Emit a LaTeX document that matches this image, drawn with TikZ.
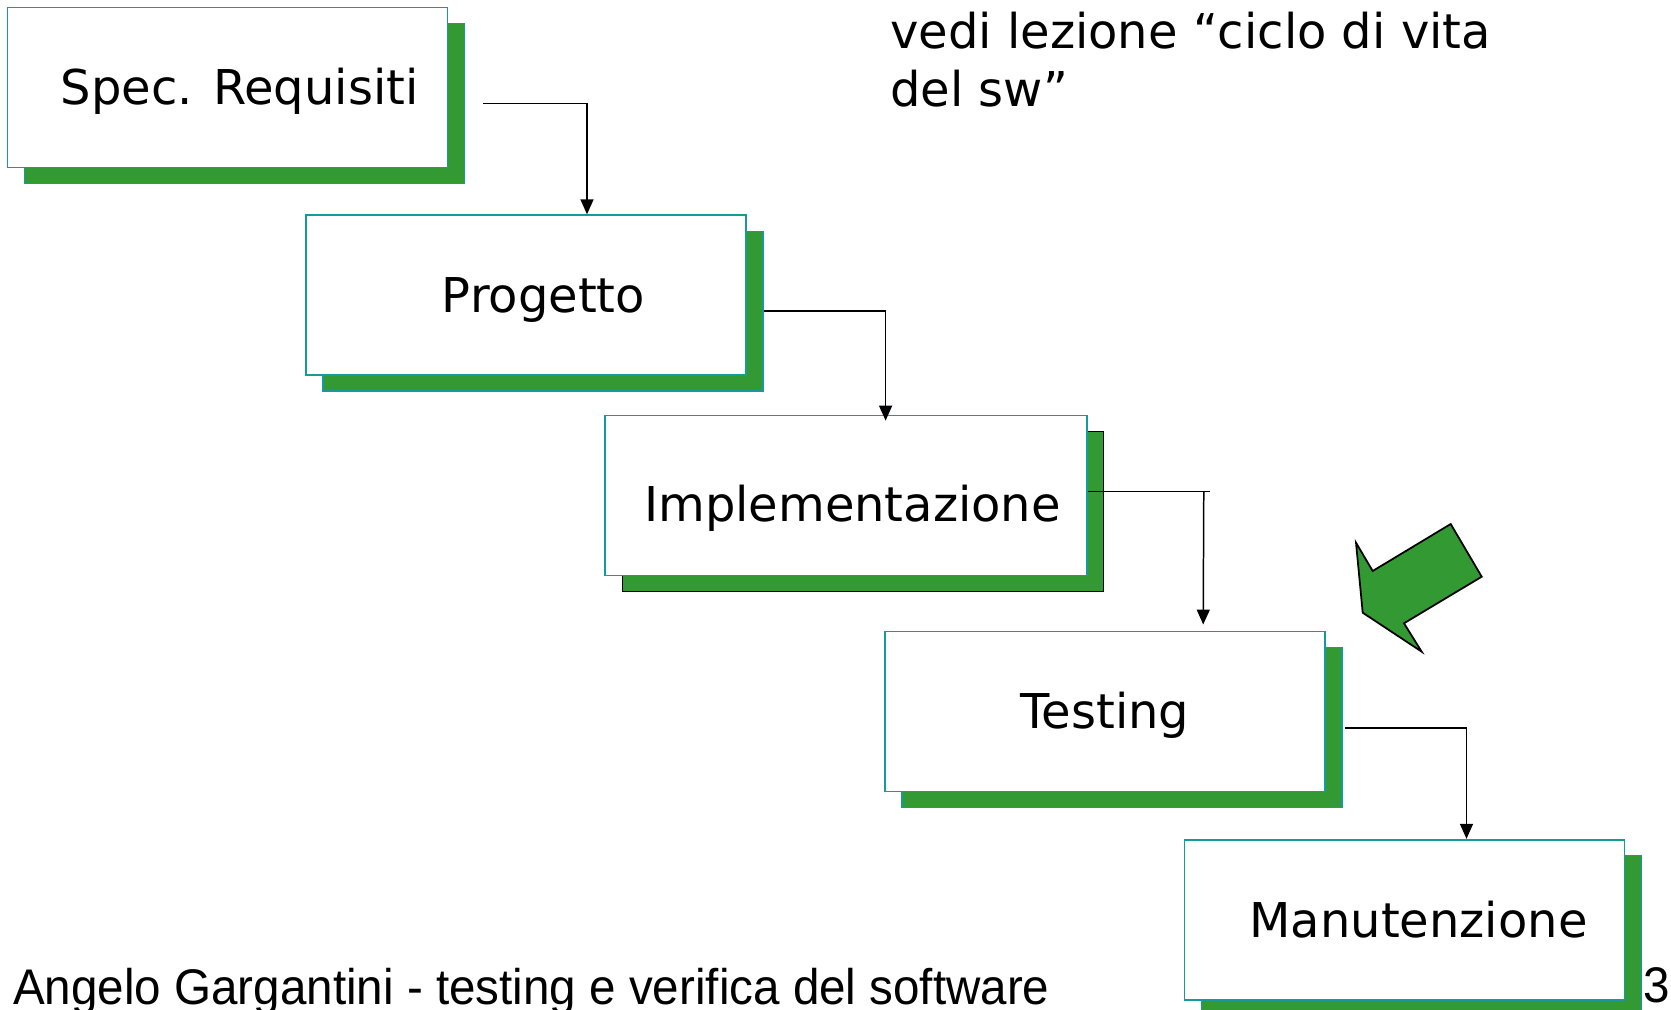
\documentclass[tikz,border=0pt]{standalone}
\usepackage{fontspec}
\setmainfont{DejaVu Sans}
\newfontfamily\footfont[FakeStretch=0.95]{Liberation Sans}
\usetikzlibrary{arrows.meta,calc,shadows,positioning}
\definecolor{shadegreen}{RGB}{51,153,51}
\definecolor{boxteal}{RGB}{20,155,155}
\tikzset{
    phasebase/.style={draw=boxteal, fill=white, line width=1pt,
        minimum width=8.8cm, minimum height=3.2cm, inner sep=0pt,
        text height=19.9pt, text depth=0pt,
        font=\fontsize{27.3}{33}\selectfont},
    phase/.style={phasebase, execute at begin node={\hspace*{#1}},
        general shadow={fill=shadegreen, draw=boxteal, line width=0.8pt,
            shadow xshift=0.34cm, shadow yshift=-0.32cm}},
    phase/.default=0pt,
    darkphase/.style={phasebase, execute at begin node={\hspace*{#1}},
        general shadow={fill=shadegreen, draw=black, line width=0.8pt,
            shadow xshift=0.34cm, shadow yshift=-0.32cm}},
    darkphase/.default=0pt,
    flow/.style={line width=0.85pt, -{Triangle[length=0.3cm,width=0.26cm]}},
    bignote/.style={inner sep=0pt, font=\fontsize{27.3}{33.3}\selectfont},
    footnote/.style={inner sep=0pt, anchor=base west,
        font=\footfont\fontsize{28.5}{33}\selectfont}
}
\begin{document}
\begin{tikzpicture}[x=0.02cm, y=-0.02cm]
    \useasboundingbox (0,0) rectangle (1671,1010);

    % Draw the phases of the life cycle.
    \node[phase=0.49cm] (spec) at (227.5,87.4) {Spec. Requisiti};
    \node[phase=0.7cm] (prog) at (526,295.2) {Progetto};
    \node[darkphase=0.26cm, minimum width=9.63cm, text height=29.6pt]
        (impl) at (846,495.5) {Implementazione};
    \node[phase] (test) at (1105,711.4) {Testing};
    \node[phase=0.56cm] (manu) at (1404.5,919.7) {Manutenzione};

    % Draw the connectors.
    \draw[flow] ($(spec.east)+(35,16)$) -| ($(prog.north)+(61,0)$);
    \draw[flow] ($(prog.east)+(17,16)$) -| ($(impl.north)+(39.6,6)$);
    \draw[line width=0.85pt] ($(impl.east)+(0,-4)$) -- ++(122.6,0);
    \draw[flow] ($(impl.east)+(116.2,-4)$) -- ($(test.north)+(98.2,-6)$);
    \draw[flow] ($(test.east)+(18.8,16.5)$) -| ($(manu.north)+(62,0)$);

    % Green arrow pointing at the testing phase.
    \draw[fill=shadegreen, line width=1pt, line join=miter]
        (1356,542.7) -- (1372.7,571) -- (1450.7,524) -- (1481.7,576.7)
        -- (1404,623.3) -- (1421.7,651.7) -- (1362.7,612.7) -- cycle;

    % Notes.
    \node[bignote, anchor=north west, align=left] (note) at (890,11.5)
        {vedi lezione “ciclo di vita\\del sw”};
    \node[footnote] (credit) at (12.8,1004)
        {Angelo Gargantini - testing e verifica del software};
    \node[footnote] (pagenum) at (1643,1002) {3};
\end{tikzpicture}
\end{document}
